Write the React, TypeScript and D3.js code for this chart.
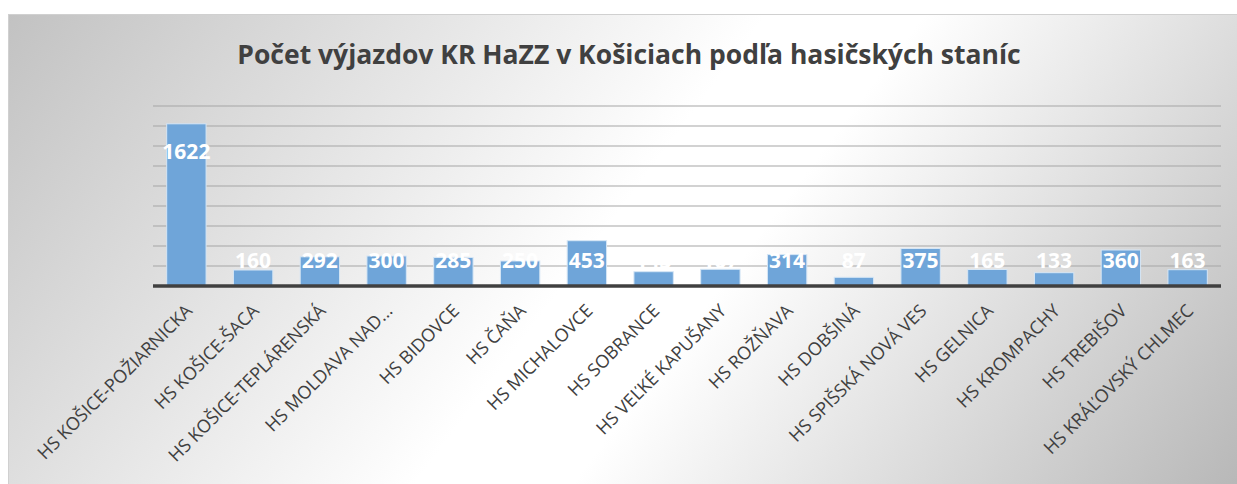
import React from "react";
import * as d3 from "d3";

const categories = [
  "HS KOŠICE-POŽIARNICKA",
  "HS KOŠICE-ŠACA",
  "HS KOŠICE-TEPLÁRENSKÁ",
  "HS MOLDAVA NAD...",
  "HS BIDOVCE",
  "HS ČAŇA",
  "HS MICHALOVCE",
  "HS SOBRANCE",
  "HS VEĽKÉ KAPUŠANY",
  "HS ROŽŇAVA",
  "HS DOBŠINÁ",
  "HS SPIŠSKÁ NOVÁ VES",
  "HS GELNICA",
  "HS KROMPACHY",
  "HS TREBIŠOV",
  "HS KRÁĽOVSKÝ CHLMEC",
];
const values = [1622, 160, 292, 300, 285, 250, 453, 143, 167, 314, 87, 375, 165, 133, 360, 163];
const gridTicks = [200, 400, 600, 800, 1000, 1200, 1400, 1600, 1800];
const title = "Počet výjazdov KR HaZZ v Košiciach podľa hasičských staníc";

const W = 1237;
const H = 484;
const left = 153;
const right = 1221;
const top = 106;
const bottom = 286;

export default function App() {
  const x = d3.scaleBand<string>().domain(categories).range([left, right]).paddingInner(0.41).paddingOuter(0.205);
  const y = d3.scaleLinear().domain([0, 1800]).range([bottom, top]);
  const y0 = y(0);
  return (
    <svg width={W} height={H} style={{ position: "absolute", left: 0, top: 0, display: "block" }}>
      <defs>
        <linearGradient id="bg" gradientUnits="userSpaceOnUse" x1={8} y1={14} x2={1020} y2={773}>
          <stop offset="0" stopColor="#c2c2c2" />
          <stop offset="0.48" stopColor="#ffffff" />
          <stop offset="0.58" stopColor="#ffffff" />
          <stop offset="1" stopColor="#b8b8b8" />
        </linearGradient>
      </defs>
      <rect x={0} y={0} width={W} height={H} fill="#ffffff" />
      <rect x={8.5} y={14.5} width={W} height={H} fill="url(#bg)" stroke="#d0d0d0" strokeWidth={1} />
      <text
        x={629}
        y={64}
        textAnchor="middle"
        fontFamily="'Open Sans', sans-serif"
        fontWeight="bold"
        fontSize={26.5}
        fill="#404040"
      >
        {title}
      </text>
      {gridTicks.map((t) => (
        <line key={t} x1={left} x2={right} y1={y(t)} y2={y(t)} stroke="#a6a6a6" strokeWidth={1.2} />
      ))}
      {categories.map((c, i) => {
        const v = values[i];
        return (
          <rect
            key={c}
            x={x(c)}
            y={y(v)}
            width={x.bandwidth()}
            height={y0 - y(v)}
            fill="#6fa5d9"
            stroke="#d6e6f5"
            strokeWidth={1}
          />
        );
      })}
      <line x1={left} x2={right} y1={y0} y2={y0} stroke="#404040" strokeWidth={3.5} />
      {categories.map((c, i) => {
        const v = values[i];
        const cx = (x(c) as number) + x.bandwidth() / 2;
        const by = Math.min(y(v) + 35, y0 - 18);
        return (
          <text
            key={"v" + c}
            x={cx}
            y={by}
            textAnchor="middle"
            fontFamily="'Open Sans', sans-serif"
            fontWeight="bold"
            fontSize={21}
            fill="#ffffff"
          >
            {v}
          </text>
        );
      })}
      {categories.map((c) => {
        const cx = (x(c) as number) + x.bandwidth() / 2;
        return (
          <text
            key={"l" + c}
            transform={`translate(${cx + 7},${312}) rotate(-45)`}
            textAnchor="end"
            fontFamily="'Open Sans', sans-serif"
            fontSize={18}
            fill="#404040"
          >
            {c}
          </text>
        );
      })}
    </svg>
  );
}
